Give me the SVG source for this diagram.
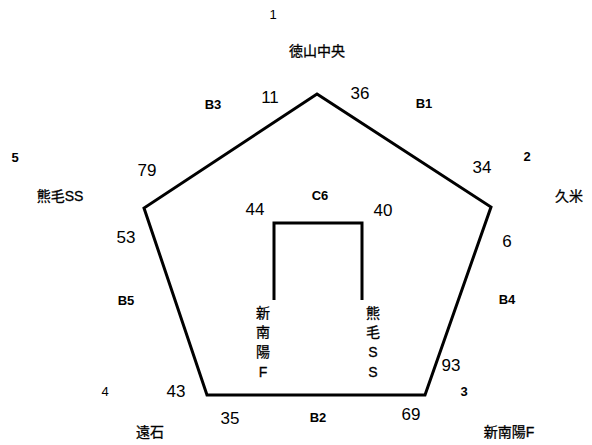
<svg xmlns="http://www.w3.org/2000/svg" width="592" height="445" viewBox="0 0 592 445">
<style>
.num{font-family:"Liberation Sans",Arial,sans-serif;font-size:17px;fill:#000;text-anchor:middle}
.lab{font-family:"Liberation Sans",Arial,sans-serif;font-size:13px;font-weight:bold;fill:#000;text-anchor:middle}
.idx{font-family:"Liberation Sans",Arial,sans-serif;font-size:13px;fill:#000;text-anchor:middle}
.jp{font-family:"Liberation Sans","Noto Sans CJK JP",sans-serif;font-size:14px;fill:#000;text-anchor:middle;stroke:#000;stroke-width:0.3}
.ln{fill:none;stroke:#000;stroke-width:3;stroke-linejoin:miter}
</style>
<rect width="592" height="445" fill="#fff"/>
<g id="connectors">
<polygon class="ln" points="317,94 491,207 425,395 207,395 144,208"/>
<polyline class="ln" points="274,300 274,223 362,223 362,300"/>
</g>
<g id="node1"><text class="idx" x="273" y="19">1</text><text class="jp" x="317" y="56">徳山中央</text></g>
<g id="node2"><text class="idx" x="527" y="161" font-weight="bold">2</text><text class="jp" x="569" y="201">久米</text></g>
<g id="node3"><text class="idx" x="464" y="396" font-weight="bold">3</text><text class="jp" x="509" y="437">新南陽F</text></g>
<g id="node4"><text class="idx" x="105" y="396">4</text><text class="jp" x="150" y="437">遠石</text></g>
<g id="node5"><text class="idx" x="15" y="162" font-weight="bold">5</text><text class="jp" x="60" y="201">熊毛SS</text></g>
<g id="labels">
<text class="lab" x="213" y="109">B3</text>
<text class="lab" x="424" y="108">B1</text>
<text class="lab" x="320" y="200">C6</text>
<text class="lab" x="126" y="305">B5</text>
<text class="lab" x="507" y="304">B4</text>
<text class="lab" x="318" y="422">B2</text>
</g>
<g id="numbers">
<text class="num" x="270" y="103">11</text>
<text class="num" x="360" y="99">36</text>
<text class="num" x="147" y="176">79</text>
<text class="num" x="126" y="243">53</text>
<text class="num" x="482" y="173">34</text>
<text class="num" x="507" y="247">6</text>
<text class="num" x="255" y="215">44</text>
<text class="num" x="383" y="216">40</text>
<text class="num" x="451" y="371">93</text>
<text class="num" x="176" y="397">43</text>
<text class="num" x="230" y="424">35</text>
<text class="num" x="411" y="420">69</text>
</g>
<g id="inner-left">
<text class="jp" x="263" y="318">新</text>
<text class="jp" x="263" y="337">南</text>
<text class="jp" x="263" y="357">陽</text>
<text class="jp" x="263" y="377">F</text>
</g>
<g id="inner-right">
<text class="jp" x="373" y="318">熊</text>
<text class="jp" x="373" y="337">毛</text>
<text class="jp" x="373" y="357">S</text>
<text class="jp" x="373" y="377">S</text>
</g>
</svg>
